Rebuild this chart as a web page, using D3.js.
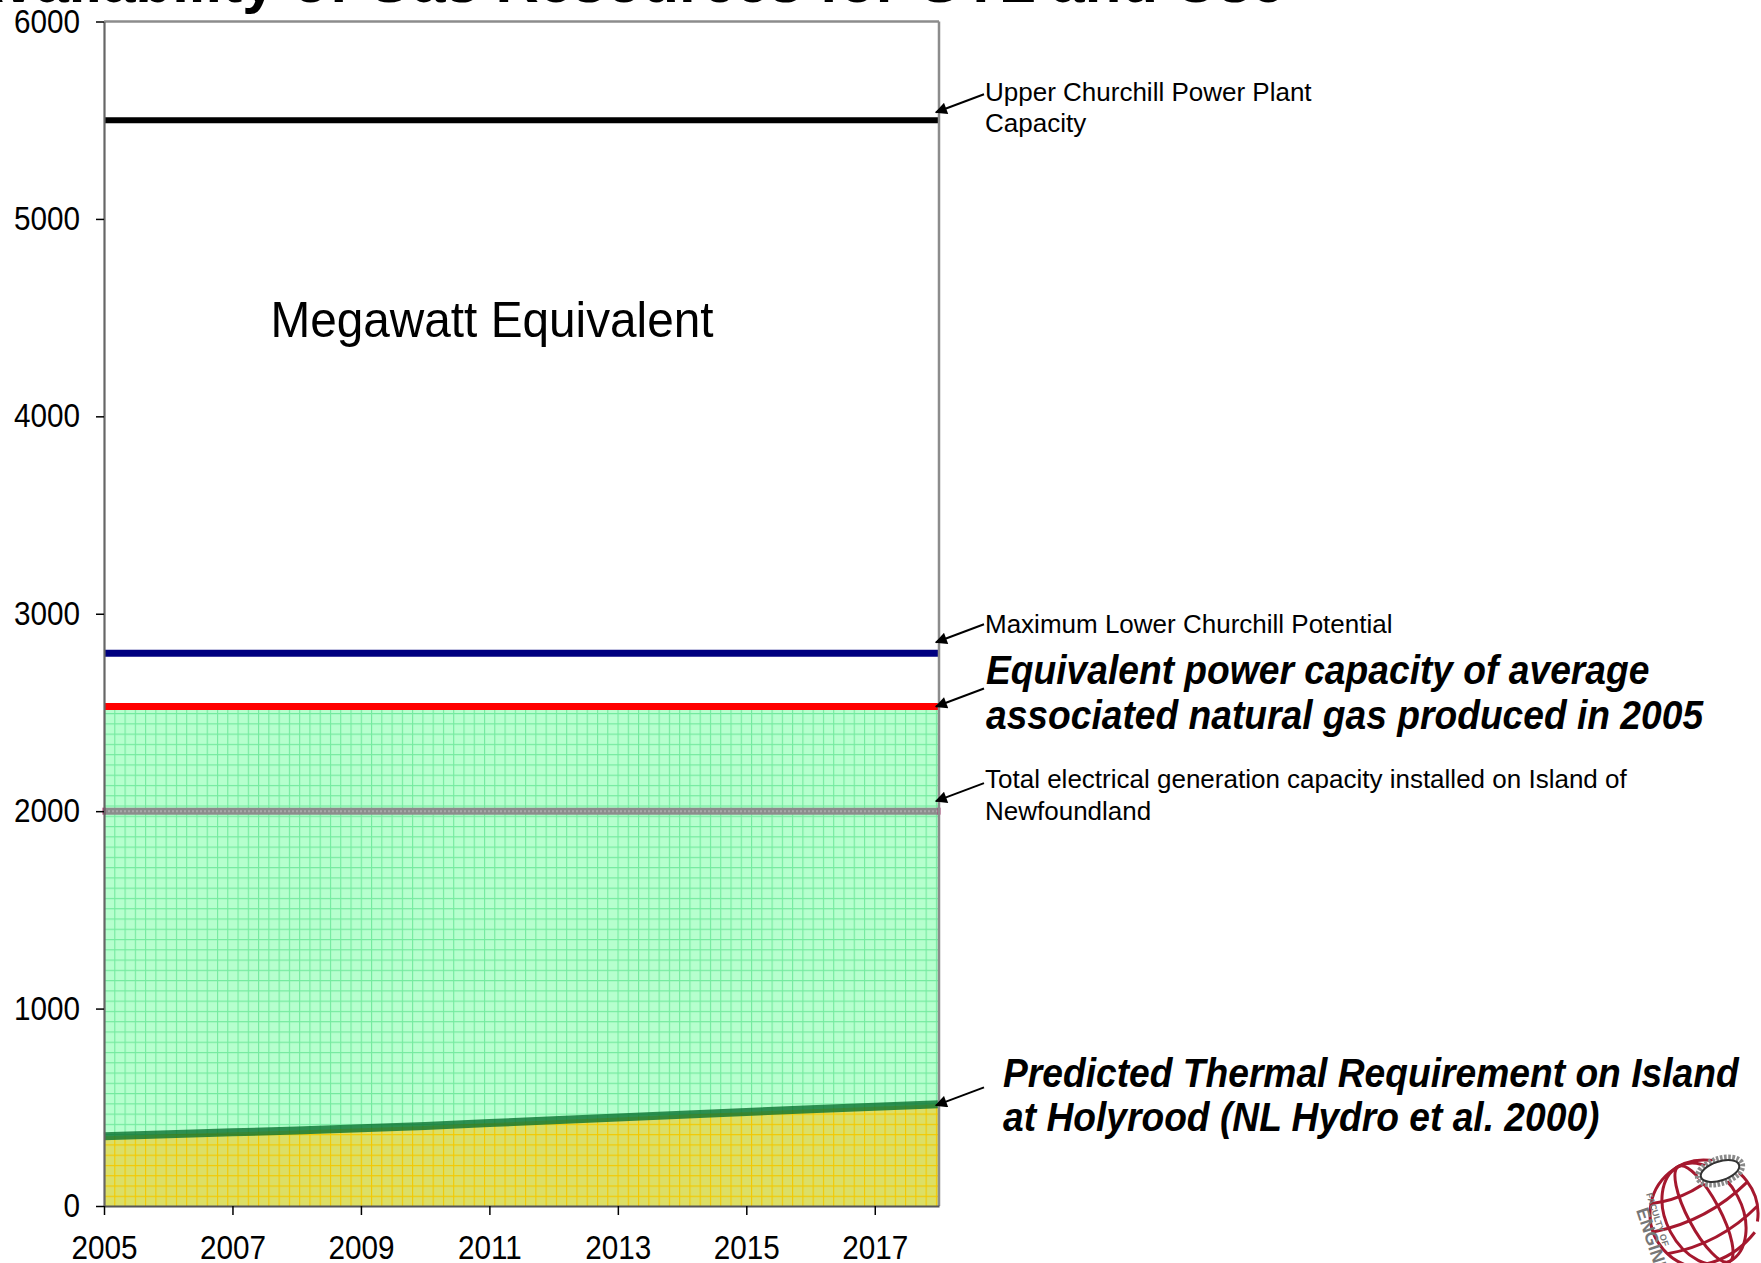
<!DOCTYPE html>
<html lang="en">
<head>
<meta charset="utf-8">
<style>
  body { margin: 0; background: #fff; }
  svg { display: block; font-family: "Liberation Sans", Arial, sans-serif; }
  .note { font-size: 26px; fill: #000; }
  .big { font-size: 40px; font-weight: bold; font-style: italic; fill: #000; }
  .axis text { font-size: 33px; fill: #000; }
</style>
<script src="https://d3js.org/d3.v7.min.js"></script>
</head>
<body>
<script>
var width = 1761, height = 1263;

// ---- data ----
var years   = [2005, 2006, 2007, 2008, 2009, 2010, 2011, 2012, 2013, 2014, 2015, 2016, 2017, 2018];
var thermal = [353, 363, 373, 383, 394, 405, 420, 434, 448, 462, 476, 490, 503, 515];

var levelNames  = ["Upper Churchill", "Lower Churchill", "Gas equivalent 2005", "Island capacity"];
var levelValues = [5500, 2800, 2530, 2000];
var levelColors = ["#000000", "#000080", "#ff0000", "#8c8c8c"];

var yTicks = [0, 1000, 2000, 3000, 4000, 5000, 6000];
var xTicks = [2005, 2007, 2009, 2011, 2013, 2015, 2017];

// annotation texts, pointing at a level (index into levelValues) or at the thermal series
var notes = [
  {lines: ["Upper Churchill Power Plant", "Capacity"], cls: "note", level: 0, base: 101, lh: 31, dy: -8},
  {lines: ["Maximum Lower Churchill Potential"], cls: "note", level: 1, base: 633, lh: 31, dy: -11},
  {lines: ["Equivalent power capacity of average", "associated natural gas produced in 2005"], cls: "big", level: 2, base: 684, lh: 45, dy: 0},
  {lines: ["Total electrical generation capacity installed on Island of", "Newfoundland"], cls: "note", level: 3, base: 788, lh: 32, dy: -10},
  {lines: ["Predicted Thermal Requirement on Island", "at Holyrood (NL Hydro et al. 2000)"], cls: "big", level: -1, base: 1087, lh: 44, dy: 1}
];

var svg = d3.select("body").append("svg")
  .attr("width", width)
  .attr("height", height);

var x = d3.scaleLinear().domain([2005, 2018]).range([104, 939]);
var y = d3.scaleLinear().domain([0, 6000]).range([1206, 21.5]);

// patterns for the filled areas
var defs = svg.append("defs");
function grid(id, bg, line) {
  var p = defs.append("pattern")
    .attr("id", id)
    .attr("patternUnits", "userSpaceOnUse")
    .attr("x", 104).attr("y", 1206)
    .attr("width", 10.27).attr("height", 10.27);
  p.append("rect").attr("width", 10.27).attr("height", 10.27).attr("fill", bg);
  p.append("path").attr("d", "M0,0.5H10.27M0.5,0V10.27")
    .attr("stroke", line).attr("stroke-width", 1.2);
}
grid("greenGrid", "#b6ffce", "#74ea9f");
grid("yellowGrid", "#dcdf66", "#f3c800");

// title (mostly off the top of the page)
svg.append("text")
  .attr("x", -39).attr("y", 2)
  .style("font-size", "60px").style("font-weight", "bold")
  .text("Availability of Gas Resources for GTL and Use");

var g = svg.append("g");

// green area up to the gas equivalent level
var gasArea = d3.area()
  .x(function(d) { return x(d); })
  .y0(y(0))
  .y1(function() { return y(levelValues[2]); });
g.append("path").datum(years)
  .attr("d", gasArea)
  .attr("fill", "url(#greenGrid)");

// thermal requirement
var thermalArea = d3.area()
  .x(function(d, i) { return x(years[i]); })
  .y0(y(0))
  .y1(function(d) { return y(d); });
g.append("path").datum(thermal)
  .attr("d", thermalArea)
  .attr("fill", "url(#yellowGrid)");

var thermalLine = d3.line()
  .x(function(d, i) { return x(years[i]); })
  .y(function(d) { return y(d); });
g.append("path").datum(thermal)
  .attr("d", thermalLine)
  .attr("fill", "none")
  .attr("stroke", "#06702e")
  .attr("stroke-opacity", 0.78)
  .attr("stroke-width", 8);

// horizontal capacity levels
g.selectAll(".level")
  .data(levelValues)
  .enter().append("line")
  .attr("class", "level")
  .attr("x1", x(2005)).attr("x2", x(2018))
  .attr("y1", function(d) { return y(d); })
  .attr("y2", function(d) { return y(d); })
  .attr("stroke", function(d, i) { return levelColors[i]; })
  .attr("stroke-width", function(d, i) { return i == 0 ? 6 : 7; });

// checker texture on the grey level
g.append("line")
  .attr("x1", x(2005)).attr("x2", x(2018))
  .attr("y1", y(levelValues[3])).attr("y2", y(levelValues[3]))
  .attr("stroke", "#a8a8a8").attr("stroke-width", 2)
  .attr("stroke-dasharray", "2,2");
[2005, 2018].forEach(function(t) {
  g.append("rect")
    .attr("x", x(t) - 1.5).attr("y", y(levelValues[3]) - 3.5)
    .attr("width", 3).attr("height", 7)
    .attr("fill", "#b03070");
});

// frame
svg.append("line").attr("x1", x(2005)).attr("x2", x(2018)).attr("y1", y(6000)).attr("y2", y(6000))
  .attr("stroke", "#8c8c8c").attr("stroke-width", 2.5);
svg.append("line").attr("x1", x(2018)).attr("x2", x(2018)).attr("y1", y(6000)).attr("y2", y(0))
  .attr("stroke", "#8c8c8c").attr("stroke-width", 2.5);

// axes
var yAxis = svg.append("g").attr("class", "axis")
  .attr("transform", "translate(" + x(2005) + ",0)")
  .call(d3.axisLeft(y).tickValues(yTicks).tickSize(8).tickSizeOuter(0).tickPadding(18.7).tickFormat(d3.format("d")));
yAxis.select(".domain").attr("stroke", "#666").attr("stroke-width", 2.2);
yAxis.selectAll(".tick line").attr("stroke", "#000").attr("stroke-width", 1.5);
yAxis.selectAll("text").attr("transform", "scale(0.9,1)");

var xAxis = svg.append("g").attr("class", "axis")
  .attr("transform", "translate(0," + y(0) + ")")
  .call(d3.axisBottom(x).tickValues(xTicks).tickSize(9).tickSizeOuter(0).tickPadding(20.6).tickFormat(d3.format("d")));
xAxis.select(".domain").attr("stroke", "#555").attr("stroke-width", 2);
xAxis.selectAll(".tick line").attr("stroke", "#000").attr("stroke-width", 1.5);
xAxis.selectAll("text").attr("transform", "scale(0.9,1)");

// in-plot caption
svg.append("g")
  .attr("transform", "translate(492,337) scale(0.955,1)")
  .append("text")
  .attr("text-anchor", "middle")
  .style("font-size", "50px")
  .text("Megawatt Equivalent");

// annotations with arrows
defs.append("marker")
  .attr("id", "arrow")
  .attr("viewBox", "0 0 10 10")
  .attr("refX", 9).attr("refY", 5)
  .attr("markerWidth", 7).attr("markerHeight", 6)
  .attr("markerUnits", "strokeWidth")
  .attr("orient", "auto")
  .append("path").attr("d", "M0,0L10,5L0,10Z").attr("fill", "#000");

var tipX = x(2018) - 3;
notes.forEach(function(n) {
  var ty = (n.level >= 0 ? y(levelValues[n.level]) : y(thermal[thermal.length - 1])) + n.dy;
  svg.append("line")
    .attr("x1", tipX + 48).attr("y1", ty - 18)
    .attr("x2", tipX).attr("y2", ty)
    .attr("stroke", "#000").attr("stroke-width", 2)
    .attr("marker-end", "url(#arrow)");

  var tx = n.cls == "big" ? (n.level >= 0 ? 986 : 1003) : 985;
  var tg = svg.append("g")
    .attr("transform", "translate(" + tx + "," + n.base + ")" + (n.cls == "big" ? " scale(0.93,1)" : ""));
  n.lines.forEach(function(s, i) {
    tg.append("text").attr("class", n.cls).attr("y", i * n.lh).text(s);
  });
});

// faculty logo, bottom right
var logo = svg.append("g").attr("transform", "translate(1704,1214)");
var red = "#a5182e";
var globe = logo.append("g").attr("transform", "rotate(-28)");
globe.append("path")
  .attr("d", d3.arc()({innerRadius: 54, outerRadius: 54, startAngle: -2.6, endAngle: 2.2}))
  .attr("fill", "none").attr("stroke", red).attr("stroke-width", 3);
[38, 16].forEach(function(rx) {
  globe.append("ellipse").attr("rx", rx).attr("ry", 54)
    .attr("fill", "none").attr("stroke", red).attr("stroke-width", 3);
});
[-34, -8, 18, 40].forEach(function(cy) {
  var r = Math.sqrt(54 * 54 - cy * cy);
  globe.append("path")
    .attr("d", "M" + (-r) + "," + cy + "Q0," + (cy + 16) + " " + r + "," + cy)
    .attr("fill", "none").attr("stroke", red).attr("stroke-width", 3);
});
logo.append("ellipse")
  .attr("cx", 16).attr("cy", -43).attr("rx", 23).attr("ry", 12)
  .attr("transform", "rotate(-18,16,-43)")
  .attr("fill", "#fff").attr("stroke", "#8a8a8a").attr("stroke-width", 6)
  .attr("stroke-dasharray", "2.5,1.5");
logo.append("ellipse")
  .attr("cx", 16).attr("cy", -43).attr("rx", 20).attr("ry", 9.5)
  .attr("transform", "rotate(-18,16,-43)")
  .attr("fill", "none").attr("stroke", "#333").attr("stroke-width", 2);
logo.append("text")
  .attr("transform", "translate(-58,-20) rotate(72)")
  .style("font-size", "9px").style("font-weight", "bold").attr("fill", "#777")
  .text("FACULTY OF");
logo.append("text")
  .attr("transform", "translate(-68,-4) rotate(72)")
  .style("font-size", "18px").style("font-weight", "bold").attr("fill", "#777")
  .text("ENGINEERING");
</script>
</body>
</html>
